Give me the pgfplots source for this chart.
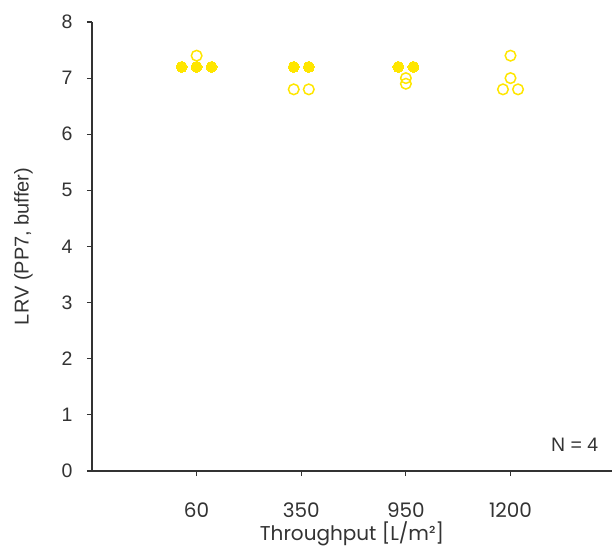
\documentclass[border=0pt]{standalone}
\usepackage{pgfplots}
\pgfplotsset{compat=1.18}
\usepackage{fontspec}
\setmainfont{Poppins}
\newfontfamily\arialf{Liberation Sans}
\definecolor{ylw}{HTML}{FFE600}
\definecolor{txt}{HTML}{333333}
\begin{document}
\begin{tikzpicture}[x=1bp,y=1bp]
\begin{axis}[
  name=ax,
  scale only axis,
  width=520bp, height=449bp,
  xmin=0, xmax=4.97, ymin=0, ymax=8,
  axis x line*=bottom, axis y line*=left,
  axis line style={txt, line width=1.2bp, -},
  xtick={1,2,3,4}, xticklabels={60,350,950,1200},
  ytick={0,1,...,8},
  tick style={txt, line width=1.2bp},
  tick align=outside,
  major tick length=5bp,
  xticklabel style={font=\fontsize{20bp}{24bp}\selectfont, text=txt, yshift=-23bp},
  yticklabel style={font=\arialf\fontsize{19.5bp}{23bp}\selectfont, text=txt, xshift=-11bp},
  /pgf/number format/assume math mode=true,
  xlabel={Throughput [L/m²]},
  ylabel={LRV (PP7, buffer)},
  xlabel style={font=\fontsize{20bp}{24bp}\selectfont, text=txt, yshift=3bp},
  ylabel style={font=\arialf\fontsize{20bp}{24bp}\selectfont, text=txt, yshift=22bp},
  clip=false,
]
\addplot[only marks, mark=*, mark size=5.5bp, mark options={fill=ylw, draw=ylw, line width=0pt}]
  coordinates {(0.857,7.2) (1,7.2) (1.143,7.2)
               (1.928,7.2) (2.072,7.2)
               (2.928,7.2) (3.072,7.2)};
\addplot[only marks, mark=o, mark size=5.3bp, mark options={draw=ylw, fill=white, line width=1.5bp}]
  coordinates {(1,7.4)
               (1.928,6.8) (2.072,6.8)
               (3,7.0) (3,6.9)
               (4,7.4) (4,7.0) (3.928,6.8) (4.072,6.8)};
\node[anchor=east, text=txt, font=\arialf\fontsize{19.5bp}{23bp}\selectfont] at (axis cs:4.873,0.47) {N = 4};
\end{axis}
\pgfresetboundingbox
\useasboundingbox ([shift={(-92bp,-76bp)}]ax.south west) rectangle ([shift={(0bp,22bp)}]ax.north east);
\end{tikzpicture}
\end{document}
